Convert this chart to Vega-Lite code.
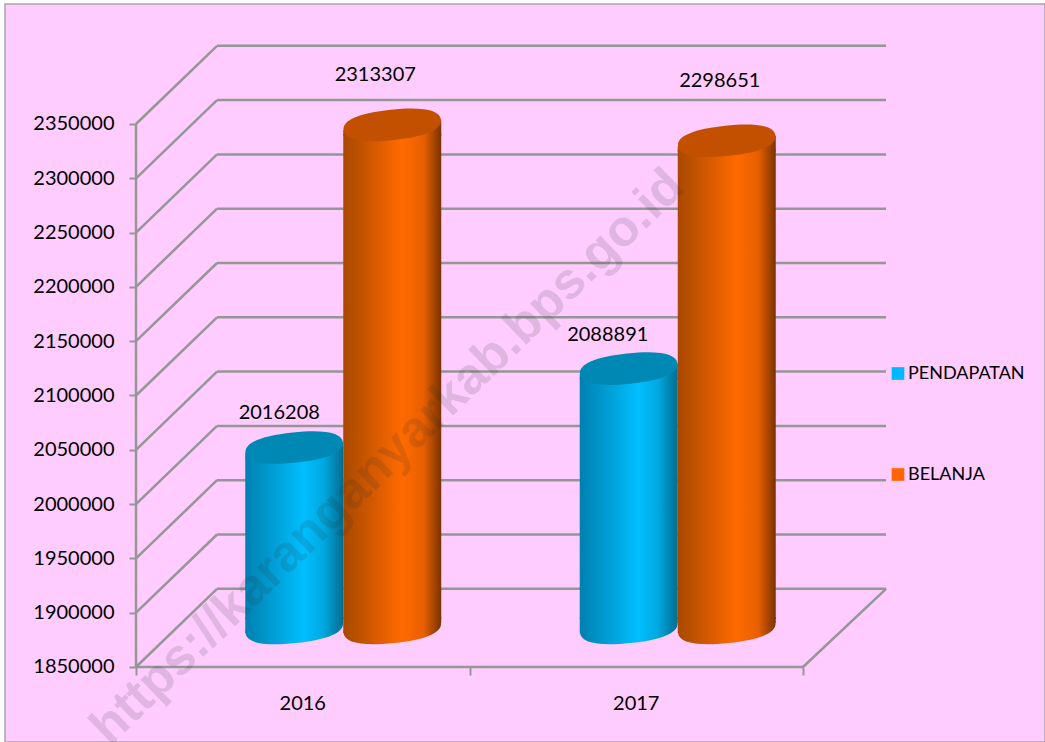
{
"$schema":"https://vega.github.io/schema/vega-lite/v6.json",
"width":1040,"height":738,
"autosize":{"type":"none"},
"padding":{"left":5,"top":4,"right":0,"bottom":0},
"background":"#ffffff",
"view":{"fill":"#FFCCFF","stroke":"#a6a6a6","strokeWidth":1.5},
"config":{"font":"Lato"},
"datasets":{
"rows":[
{"year":"2016","series":"PENDAPATAN","value":2016208},
{"year":"2017","series":"PENDAPATAN","value":2088891},
{"year":"2016","series":"BELANJA","value":2313307},
{"year":"2017","series":"BELANJA","value":2298651}
],
"lines":[
{"x0":0,"y0":1850000,"x1":0,"y1":2350000},
{"x0":0,"y0":1850000,"x1":2,"y1":1850000},
{"x0":2,"y0":1850000,"x1":2.249,"y1":1922000},
{"x0":0,"y0":1850000,"x1":0.243,"y1":1922000},
{"x0":0,"y0":1900000,"x1":0.243,"y1":1972000},
{"x0":0,"y0":1950000,"x1":0.243,"y1":2022000},
{"x0":0,"y0":2000000,"x1":0.243,"y1":2072000},
{"x0":0,"y0":2050000,"x1":0.243,"y1":2122000},
{"x0":0,"y0":2100000,"x1":0.243,"y1":2172000},
{"x0":0,"y0":2150000,"x1":0.243,"y1":2222000},
{"x0":0,"y0":2200000,"x1":0.243,"y1":2272000},
{"x0":0,"y0":2250000,"x1":0.243,"y1":2322000},
{"x0":0,"y0":2300000,"x1":0.243,"y1":2372000},
{"x0":0,"y0":2350000,"x1":0.243,"y1":2422000},
{"x0":0.243,"y0":1922000,"x1":2.249,"y1":1922000},
{"x0":0.243,"y0":1972000,"x1":2.249,"y1":1972000},
{"x0":0.243,"y0":2022000,"x1":2.249,"y1":2022000},
{"x0":0.243,"y0":2072000,"x1":2.249,"y1":2072000},
{"x0":0.243,"y0":2122000,"x1":2.249,"y1":2122000},
{"x0":0.243,"y0":2172000,"x1":2.249,"y1":2172000},
{"x0":0.243,"y0":2222000,"x1":2.249,"y1":2222000},
{"x0":0.243,"y0":2272000,"x1":2.249,"y1":2272000},
{"x0":0.243,"y0":2322000,"x1":2.249,"y1":2322000},
{"x0":0.243,"y0":2372000,"x1":2.249,"y1":2372000},
{"x0":0.243,"y0":2422000,"x1":2.249,"y1":2422000}
]
},
"resolve":{"scale":{"x":"independent","y":"independent"}},
"layer":[
{
"data":{"name":"lines"},
"mark":{"type":"rule","color":"#969696","strokeWidth":2.5},
"encoding":{
"x":{"field":"x0","type":"quantitative","scale":{"domain":[-0.3928,2.7256],"nice":false,"zero":false},
"axis":{"orient":"bottom","offset":-75,"values":[0,1,2],"labels":false,"domain":false,"grid":false,"title":null,"ticks":true,"tickSize":8,"tickColor":"#969696","tickWidth":2}},
"x2":{"field":"x1"},
"y":{"field":"y0","type":"quantitative","scale":{"domain":[1780939,2460497],"nice":false,"zero":false},
"axis":{"orient":"left","offset":-131,"values":[1850000,1900000,1950000,2000000,2050000,2100000,2150000,2200000,2250000,2300000,2350000],"format":"d","domain":false,"grid":false,"title":null,"tickSize":7,"tickColor":"#969696","tickWidth":2,"labelPadding":15,"labelFontSize":20,"labelColor":"#000000","labelFont":"Lato"}},
"y2":{"field":"y1"}
}
},
{
"data":{"values":[{"year":"2016","pos":0.5,"base":1850000},{"year":"2017","pos":1.5,"base":1850000}]},
"mark":{"type":"text","fontSize":20,"color":"#000000","dy":37,"align":"center","baseline":"middle"},
"encoding":{
"x":{"field":"pos","type":"quantitative","scale":{"domain":[-0.3928,2.7256],"nice":false,"zero":false},"axis":null},
"y":{"field":"base","type":"quantitative","scale":{"domain":[1780939,2460497],"nice":false,"zero":false},"axis":null},
"text":{"field":"year"}
}
},
{
"data":{"name":"rows"},
"encoding":{
"x":{"field":"year","type":"nominal","scale":{"domain":["2016","2017"],"range":[171,840],"paddingInner":0,"paddingOuter":0},"axis":null},
"xOffset":{"field":"series","type":"nominal","scale":{"domain":["PENDAPATAN","BELANJA"],"paddingInner":0,"paddingOuter":0.7066}}
},
"layer":[
{"mark":{"type":"bar","width":40,"yOffset":8,"y2Offset":-8},"encoding":{
"y":{"field":"value","type":"quantitative","scale":{"domain":[1745028,2424586],"nice":false,"zero":false},"axis":null},
"y2":{"datum":1850000},
"color":{"field":"series","type":"nominal","scale":{"domain":["PENDAPATAN","BELANJA"],"range":["#00B8FF","#FF6600"]},
"legend":{"orient":"none","legendX":884,"legendY":360.5,"title":null,"symbolType":"square","symbolSize":160,"symbolStrokeWidth":0,"labelFontSize":18,"labelColor":"#000000","labelFont":"Lato","rowPadding":83,"labelOffset":1,"symbolOpacity":1}}
}},
{"transform":[{"filter":"datum.series=='PENDAPATAN'"}],"layer":[
{"mark":{"type":"point","filled":true,"opacity":1,"size":9604,"shape":"M 0.9945 -0.1045 C 1.0156 0.0959 0.6788 0.2404 0.0324 0.3083 C -0.614 0.3762 -0.9734 0.3049 -0.9945 0.1045 C -1.0156 -0.0959 -0.6788 -0.2404 -0.0324 -0.3083 C 0.614 -0.3762 0.9734 -0.3049 0.9945 -0.1045 Z",
"color":{"x1":0,"x2":1,"y1":0,"y2":0,"gradient":"linear","stops":[{"offset":0,"color":"#0080B0"},{"offset":0.6,"color":"#00BFFF"},{"offset":0.8,"color":"#00A8E0"},{"offset":1,"color":"#006C90"}]}},
"encoding":{"y":{"datum":1850000}}},
{"mark":{"type":"point","filled":true,"opacity":1,"size":9604,"shape":"M -1 -0.22 L 1 -0.22 L 1 -0.1045 L -1 0.1045 Z",
"color":{"x1":0,"x2":1,"y1":0,"y2":0,"gradient":"linear","stops":[{"offset":0,"color":"#0080B0"},{"offset":0.6,"color":"#00BFFF"},{"offset":0.8,"color":"#00A8E0"},{"offset":1,"color":"#006C90"}]}},
"encoding":{"y":{"datum":1850000}}},
{"mark":{"type":"bar","yOffset":9,"y2Offset":-9,"color":{"x1":0,"x2":1,"y1":0,"y2":0,"gradient":"linear","stops":[{"offset":0,"color":"#0080B0"},{"offset":0.6,"color":"#00BFFF"},{"offset":0.8,"color":"#00A8E0"},{"offset":1,"color":"#006C90"}]}},
"encoding":{"y":{"field":"value","type":"quantitative"},"y2":{"datum":1850000}}},
{"mark":{"type":"point","filled":true,"opacity":1,"size":9604,"shape":"M -1 0.1045 L 1 -0.1045 L 1 0.22 L -1 0.22 Z",
"color":{"x1":0,"x2":1,"y1":0,"y2":0,"gradient":"linear","stops":[{"offset":0,"color":"#0080B0"},{"offset":0.6,"color":"#00BFFF"},{"offset":0.8,"color":"#00A8E0"},{"offset":1,"color":"#006C90"}]}},
"encoding":{"y":{"field":"value","type":"quantitative"}}},
{"mark":{"type":"point","filled":true,"opacity":1,"size":9604,"color":"#0088B4","shape":"M 0.9945 -0.1045 C 1.0156 0.0959 0.6788 0.2404 0.0324 0.3083 C -0.614 0.3762 -0.9734 0.3049 -0.9945 0.1045 C -1.0156 -0.0959 -0.6788 -0.2404 -0.0324 -0.3083 C 0.614 -0.3762 0.9734 -0.3049 0.9945 -0.1045 Z"},
"encoding":{"y":{"field":"value","type":"quantitative"}}}
]},
{"transform":[{"filter":"datum.series=='BELANJA'"}],"layer":[
{"mark":{"type":"point","filled":true,"opacity":1,"size":9604,"shape":"M 0.9945 -0.1045 C 1.0156 0.0959 0.6788 0.2404 0.0324 0.3083 C -0.614 0.3762 -0.9734 0.3049 -0.9945 0.1045 C -1.0156 -0.0959 -0.6788 -0.2404 -0.0324 -0.3083 C 0.614 -0.3762 0.9734 -0.3049 0.9945 -0.1045 Z",
"color":{"x1":0,"x2":1,"y1":0,"y2":0,"gradient":"linear","stops":[{"offset":0,"color":"#A84800"},{"offset":0.6,"color":"#FF6A00"},{"offset":0.82,"color":"#E85F00"},{"offset":1,"color":"#7A3300"}]}},
"encoding":{"y":{"datum":1850000}}},
{"mark":{"type":"point","filled":true,"opacity":1,"size":9604,"shape":"M -1 -0.22 L 1 -0.22 L 1 -0.1045 L -1 0.1045 Z",
"color":{"x1":0,"x2":1,"y1":0,"y2":0,"gradient":"linear","stops":[{"offset":0,"color":"#A84800"},{"offset":0.6,"color":"#FF6A00"},{"offset":0.82,"color":"#E85F00"},{"offset":1,"color":"#7A3300"}]}},
"encoding":{"y":{"datum":1850000}}},
{"mark":{"type":"bar","yOffset":9,"y2Offset":-9,"color":{"x1":0,"x2":1,"y1":0,"y2":0,"gradient":"linear","stops":[{"offset":0,"color":"#A84800"},{"offset":0.6,"color":"#FF6A00"},{"offset":0.82,"color":"#E85F00"},{"offset":1,"color":"#7A3300"}]}},
"encoding":{"y":{"field":"value","type":"quantitative"},"y2":{"datum":1850000}}},
{"mark":{"type":"point","filled":true,"opacity":1,"size":9604,"shape":"M -1 0.1045 L 1 -0.1045 L 1 0.22 L -1 0.22 Z",
"color":{"x1":0,"x2":1,"y1":0,"y2":0,"gradient":"linear","stops":[{"offset":0,"color":"#A84800"},{"offset":0.6,"color":"#FF6A00"},{"offset":0.82,"color":"#E85F00"},{"offset":1,"color":"#7A3300"}]}},
"encoding":{"y":{"field":"value","type":"quantitative"}}},
{"mark":{"type":"point","filled":true,"opacity":1,"size":9604,"color":"#C25000","shape":"M 0.9945 -0.1045 C 1.0156 0.0959 0.6788 0.2404 0.0324 0.3083 C -0.614 0.3762 -0.9734 0.3049 -0.9945 0.1045 C -1.0156 -0.0959 -0.6788 -0.2404 -0.0324 -0.3083 C 0.614 -0.3762 0.9734 -0.3049 0.9945 -0.1045 Z"},
"encoding":{"y":{"field":"value","type":"quantitative"}}}
]},
{"transform":[{"filter":"datum.value==2016208"}],"mark":{"type":"text","fontSize":20,"color":"#000000","dx":-15,"dy":-34},"encoding":{"y":{"field":"value","type":"quantitative"},"text":{"field":"value","type":"quantitative","format":"d"}}},
{"transform":[{"filter":"datum.value==2313307"}],"mark":{"type":"text","fontSize":20,"color":"#000000","dx":-17,"dy":-50},"encoding":{"y":{"field":"value","type":"quantitative"},"text":{"field":"value","type":"quantitative","format":"d"}}},
{"transform":[{"filter":"datum.value==2088891"}],"mark":{"type":"text","fontSize":20,"color":"#000000","dx":-21,"dy":-34},"encoding":{"y":{"field":"value","type":"quantitative"},"text":{"field":"value","type":"quantitative","format":"d"}}},
{"transform":[{"filter":"datum.value==2298651"}],"mark":{"type":"text","fontSize":20,"color":"#000000","dx":-7,"dy":-60},"encoding":{"y":{"field":"value","type":"quantitative"},"text":{"field":"value","type":"quantitative","format":"d"}}}
]
},
{
"data":{"values":[{"mark":"https://karanganyarkab.bps.go.id","px":0.7556,"py":2043000}]},
"mark":{"type":"text","font":"Liberation Sans","fontWeight":"bold","fontSize":51,"angle":316,"color":"#303030","opacity":0.14,"align":"center","baseline":"middle"},
"encoding":{
"x":{"field":"px","type":"quantitative","scale":{"domain":[-0.3928,2.7256],"nice":false,"zero":false},"axis":null},
"y":{"field":"py","type":"quantitative","scale":{"domain":[1780939,2460497],"nice":false,"zero":false},"axis":null},
"text":{"field":"mark"}
}
}
]
}
